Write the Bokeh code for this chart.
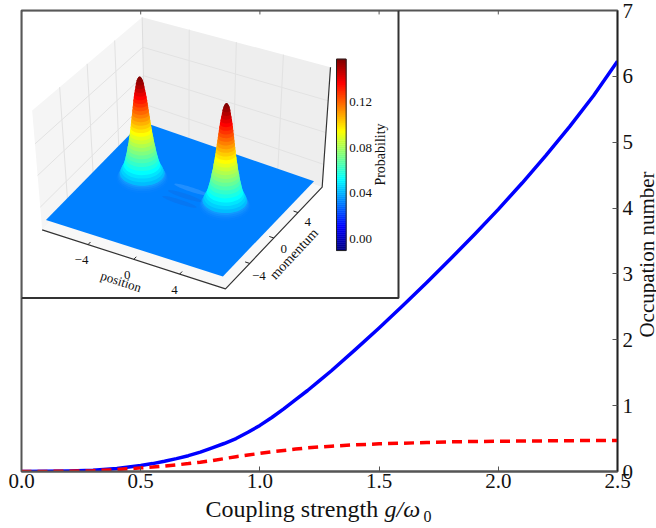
import numpy as np
from bokeh.plotting import figure
from bokeh.layouts import column
from bokeh.models import Range1d, FixedTicker, Label, PrintfTickFormatter
from bokeh.embed import file_html
from bokeh.resources import INLINE

# ---- main chart data
coupling = [0.0,0.1,0.2,0.3,0.4,0.5,0.55,0.6,0.65,0.7,0.75,0.8,0.85,0.9,0.95,1.0,1.05,1.1,1.15,1.2,1.25,1.3,1.4,1.5,1.6,1.7,1.8,1.9,2.0,2.1,2.2,2.3,2.4,2.5]
occupation_total = [0.0,0.002,0.008,0.02,0.045,0.09,0.12,0.155,0.195,0.24,0.295,0.36,0.425,0.50,0.595,0.70,0.82,0.95,1.09,1.23,1.38,1.53,1.85,2.18,2.52,2.87,3.23,3.60,3.98,4.38,4.80,5.24,5.71,6.23]
occupation_dashed = [0.0,0.001,0.004,0.012,0.028,0.055,0.067,0.082,0.10,0.12,0.142,0.165,0.195,0.225,0.25,0.275,0.30,0.32,0.34,0.36,0.373,0.385,0.405,0.42,0.43,0.44,0.45,0.455,0.46,0.462,0.465,0.468,0.47,0.472]
x_ticks = [0.0,0.5,1.0,1.5,2.0,2.5]
y_ticks = [0,1,2,3,4,5,6,7]
top_ticks = [0.5,1.0,1.5,2.0]

# ---- inset data
level_prob = [0.0,0.002,0.004,0.006,0.008,0.012,0.016,0.02,0.025,0.03,0.035,0.04,0.045,0.05,0.055,0.06,0.065,0.07,0.075,0.08,0.085,0.09,0.095,0.10,0.105,0.11,0.115,0.12,0.125,0.13,0.135,0.14,0.1445,0.147,0.149,0.15]
level_radius = [2.0,1.92,1.85,1.78,1.72,1.62,1.5,1.4,1.31,1.24,1.17,1.11,1.06,1.0,0.95,0.91,0.86,0.82,0.78,0.75,0.71,0.68,0.64,0.61,0.575,0.54,0.51,0.47,0.43,0.38,0.33,0.29,0.23,0.17,0.11,0.05]
peak_position = [-4.2, 3.1]
peak_momentum = [1.0, 1.0]
peak_scale = [1.0, 0.97]
inset_ticks = [-4, 0, 4]
cbar_ticks = [0.00, 0.04, 0.08, 0.12]
cbar_range = [-0.0103, 0.158]
fringe_position = [-0.2, -0.2, -0.2]
fringe_momentum = [1.6, 0.6, -0.3]
fringe_color = ["#3f9dff", "#0b6ee8", "#0b6ee8"]

W, H = 656, 528
FL, FR, FT, FB = 21, 617, 10, 471
p = figure(width=W, height=H, output_backend="svg", toolbar_location=None,
           x_range=Range1d(0, 2.5), y_range=Range1d(0, 7),
           y_axis_location="right", min_border_left=FL, min_border_right=W-FR,
           min_border_top=FT, min_border_bottom=H-FB,
           background_fill_color="white", border_fill_color="white")
p.grid.visible = False
p.outline_line_color = "#555555"
p.outline_line_width = 2
p.extra_x_ranges["px"] = Range1d(FL, FR)
p.extra_y_ranges["py"] = Range1d(FB, FT)

FONT = "Liberation Serif"
for ax, ticks in ((p.xaxis[0], x_ticks), (p.yaxis[0], y_ticks)):
    ax.ticker = FixedTicker(ticks=ticks)
    ax.major_tick_in = 5
    ax.major_tick_out = 0
    ax.minor_tick_line_color = None
    ax.major_tick_line_color = "#555555"
    ax.major_label_text_font = FONT
    ax.major_label_text_font_size = "21px"
    ax.major_label_text_color = "#111111"
p.xaxis[0].formatter = PrintfTickFormatter(format="%.1f")
p.xaxis[0].axis_line_color = "#555555"
p.xaxis[0].axis_line_width = 2
p.xaxis[0].major_label_standoff = 2
p.yaxis[0].axis_line_color = "#222222"
p.yaxis[0].axis_line_width = 1.5
p.yaxis[0].major_label_standoff = 5

# curves
p.line(coupling, occupation_total, line_color="#0000ff", line_width=3.5, line_join="round")
p.line(coupling, occupation_dashed, line_color="#ff0000", line_width=3.5, line_dash="10 6")

# ---- inset projection: view calibration of the 3D axes box, in inset pixels
CORN = np.array([[125,688],[675,865],[965,560],[432,372]], float)/3
HVEC = np.array([[-30,-358],[5,-380],[25,-360],[-7,-322]], float)/3

def proj(x, m, z):
    x, m, z = np.asarray(x, float), np.asarray(m, float), np.asarray(z, float)
    u, v = (x+8)/16, (m+8)/16
    w = [(1-u)*(1-v), u*(1-v), u*v, (1-u)*v]
    px = sum(w[i]*(CORN[i,0]+z*HVEC[i,0]) for i in range(4))
    py = sum(w[i]*(CORN[i,1]+z*HVEC[i,1]) for i in range(4))
    return px.tolist() if px.ndim else float(px), py.tolist() if py.ndim else float(py)

def zval(prob):
    return (np.asarray(prob, float)+0.01)/0.17

def jet(t):
    t = float(np.clip(t, 0, 1))
    r = np.clip(min(4*t-1.5, -4*t+4.5), 0, 1)
    g = np.clip(min(4*t-0.5, -4*t+3.5), 0, 1)
    b = np.clip(min(4*t+0.5, -4*t+2.5), 0, 1)
    return r, g, b

def hexc(c):
    return "#%02x%02x%02x" % tuple(int(round(v*255)) for v in c)

def hull(points):
    pts = sorted(set(points))
    def half(seq):
        out = []
        for q in seq:
            while len(out) >= 2 and (out[-1][0]-out[-2][0])*(q[1]-out[-2][1]) - (out[-1][1]-out[-2][1])*(q[0]-out[-2][0]) <= 0:
                out.pop()
            out.append(q)
        return out[:-1]
    return half(pts) + half(pts[::-1])

# inset panel
p.quad(left=FL, right=398, top=FT, bottom=297.5, fill_color="white", line_color="#333333", line_width=2,
       x_range_name="px", y_range_name="py")

# ticks along the top of the frame, drawn over the inset
p.segment(x0=top_ticks, x1=top_ticks, y0=[7]*len(top_ticks), y1=[6.94]*len(top_ticks),
          line_color="#555555", line_width=1)

def poly(xs, ms, zs, **kw):
    a, b = proj(xs, ms, zs)
    p.patch(a, b, x_range_name="px", y_range_name="py", **kw)

def seg(xs, ms, zs, **kw):
    a, b = proj(xs, ms, zs)
    p.line(a, b, x_range_name="px", y_range_name="py", **kw)

# walls and floor pane
poly([-8,-8,-8,-8], [-8,8,8,-8], [0,0,1,1], fill_color="#f5f5f5", line_color=None)
poly([-8,8,8,-8], [8,8,8,8], [0,0,1,1], fill_color="#eeeeee", line_color=None)
poly([-8,8,8,-8], [-8,-8,8,8], [0,0,0,0], fill_color="#f8f8f8", line_color=None)
wall_z = [0.19, 0.455, 0.72]
for t in inset_ticks:
    seg([t,t],[8,8],[0,1], line_color="#e2e2e2", line_width=1)
    seg([-8,-8],[t,t],[0,1], line_color="#e2e2e2", line_width=1)
for z in wall_z:
    seg([-8,-8,8],[-8,8,8],[z,z,z], line_color="#e2e2e2", line_width=1)
# dark box edges
seg([-8,8,8,8],[-8,-8,8,8],[0,0,0,1], line_color="#333333", line_width=1.2)
seg([-8,-8],[8,8],[0,1], line_color="#dddddd", line_width=1)
for t in inset_ticks:
    seg([t,t],[-8,-7.6],[0,0], line_color="#222222", line_width=1)
    seg([8,7.6],[t,t],[0,0], line_color="#222222", line_width=1)

# blue surface
z0 = float(zval(0.0))
poly([-7.9,7.5,7.5,-7.9], [-7.5,-7.5,7.5,7.5], [z0]*4, fill_color=hexc(jet(0.25)), line_color=None)

# interference fringes
ang = np.linspace(0, 2*np.pi, 41)
for fx, fm, fc in zip(fringe_position, fringe_momentum, fringe_color):
    a, b = proj(fx+1.5*np.cos(ang), fm+0.28*np.sin(ang), np.full_like(ang, z0))
    p.patch(a, b, fill_color=fc, fill_alpha=0.5, line_color=None, x_range_name="px", y_range_name="py")

# peaks: hull between consecutive level slices, bottom up
for cx, cm, sc in zip(peak_position, peak_momentum, peak_scale):
    prev = None
    for pr, rad in zip(level_prob, level_radius):
        rgb = np.array(jet((pr+0.05)/0.2))
        alpha = 1.0
        if pr < 0.012:
            rgb = rgb*0.9 + 0.1
            alpha = 0.12 + 0.6*pr/0.012
        a, b = proj(cx+rad*np.cos(ang), cm+rad*np.sin(ang), np.full_like(ang, float(zval(pr*sc))))
        ring = list(zip(a, b))
        shape = ring if (prev is None or pr < 0.012) else hull(ring + prev)
        p.patch([q[0] for q in shape], [q[1] for q in shape], fill_color=hexc(rgb), fill_alpha=alpha,
                line_color=None, x_range_name="px", y_range_name="py")
        prev = ring

# colour bar
cb_edges = np.linspace(cbar_range[0], cbar_range[1], 97)
def cby(v):
    return (715 - np.asarray(v)*3412.5)/3
cb_mid = 0.5*(cb_edges[1:]+cb_edges[:-1])
cb_cols = [hexc(jet((v-cbar_range[0])/(cbar_range[1]-cbar_range[0]))) for v in cb_mid]
p.quad(left=1008/3, right=1037/3, bottom=cby(cb_edges[:-1]).tolist(), top=cby(cb_edges[1:]).tolist(),
       fill_color=cb_cols, line_color=cb_cols, line_width=0.5, x_range_name="px", y_range_name="py")
p.quad(left=1008/3, right=1037/3, bottom=float(cby(cbar_range[0])), top=float(cby(cbar_range[1])),
       fill_color=None, line_color="#222222", line_width=1, x_range_name="px", y_range_name="py")

def label(text, x, y, size, angle=0, align="center", baseline="middle", style="normal", color="#111111"):
    p.add_layout(Label(x=x, y=y, x_range_name="px", y_range_name="py", text=text, text_font=FONT,
                       text_font_size=f"{size}px", angle=angle, angle_units="deg", text_align=align,
                       text_baseline=baseline, text_font_style=style, text_color=color))

for v in cbar_ticks:
    label("%.2f" % v, 1046/3, float(cby(v)), 13, align="left")
label("Probability", 1141/3, 462/3, 14, angle=90)

for t, (tx, ty) in zip(inset_ticks, [(243,778),(380,822),(522,868)]):
    label(str(t).replace("-", "\u2212"), tx/3, ty/3, 13)
for t, (tx, ty) in zip(inset_ticks, [(775,825),(850,745),(922,665)]):
    label(str(t).replace("-", "\u2212"), tx/3, ty/3, 13)
label("position", 362/3, 843/3, 13, angle=-18)
label("momentum", 880/3, 760/3, 14, angle=47)

# axis titles sit on a transparent sheet laid over the chart, whose frame fills the canvas
sheet = figure(width=W, height=H, output_backend="svg", toolbar_location=None,
               x_range=Range1d(0, W), y_range=Range1d(H, 0), x_axis_type=None, y_axis_type=None,
               min_border_left=0, min_border_right=0, min_border_top=0, min_border_bottom=0,
               background_fill_color=None, border_fill_color=None, outline_line_color=None,
               margin=(-H, 0, 0, 0))
sheet.grid.visible = False
if "frame_align" in p.properties():
    p.frame_align = False
    sheet.frame_align = False

def title(text, x, y, size, angle=0, align="left", baseline="middle", style="normal"):
    sheet.add_layout(Label(x=x, y=y, text=text, text_font=FONT, text_font_size=f"{size}px",
                           angle=angle, angle_units="deg", text_align=align, text_baseline=baseline,
                           text_font_style=style, text_color="#111111"))

title("Coupling strength", 205, 508, 24)
title("g/\u03c9", 384, 508, 24, style="italic")
title("0", 423, 516, 16)
title("Occupation number", 646, 254, 21, angle=90, align="center")

open("out.html", "w").write(file_html(column(p, sheet), INLINE))
